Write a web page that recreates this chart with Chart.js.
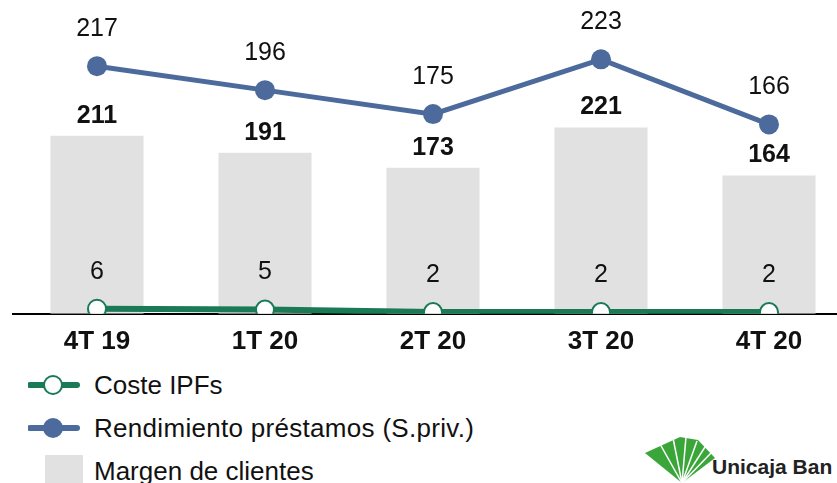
<!DOCTYPE html>
<html>
<head>
<meta charset="utf-8">
<script src="https://cdn.jsdelivr.net/npm/chart.js@4"></script>
<style>
  html, body { margin: 0; padding: 0; background: #fff; overflow: hidden; width: 837px; height: 483px; }
  body { position: relative; font-family: "Liberation Sans", Arial, sans-serif; }
  #wrap { position: absolute; left: 0; top: 0; width: 853px; height: 363px; }
  .leg { position: absolute; font-size: 26px; color: #111; line-height: 30px; white-space: nowrap; }
  .sw { position: absolute; }
  #logo-text { position: absolute; left: 712px; top: 455px; font-size: 21px; font-weight: bold; color: #222; white-space: nowrap; }
</style>
</head>
<body>
<div id="wrap"><canvas id="chart"></canvas></div>

<!-- leyenda -->
<svg class="sw" style="left:28px;top:373px" width="52" height="24">
  <line x1="2" y1="12" x2="49" y2="12" stroke="#1b7a56" stroke-width="6" stroke-linecap="round"/>
  <circle cx="25" cy="12" r="9" fill="#fff" stroke="#1b7a56" stroke-width="2"/>
</svg>
<div class="leg" style="left:94px;top:370px">Coste IPFs</div>
<svg class="sw" style="left:28px;top:416px" width="52" height="24">
  <line x1="2" y1="12" x2="49" y2="12" stroke="#4c6b9c" stroke-width="6" stroke-linecap="round"/>
  <circle cx="25" cy="12" r="10" fill="#4c6b9c"/>
</svg>
<div class="leg" style="left:94px;top:413px;letter-spacing:0.3px">Rendimiento préstamos (S.priv.)</div>
<div class="sw" style="left:45px;top:455px;width:38px;height:30px;background:#e1e1e1"></div>
<div class="leg" style="left:94px;top:456px">Margen de clientes</div>

<!-- logo -->
<svg class="sw" style="left:640px;top:432px" width="80" height="52">
  <polygon points="5,21 40,5 58,8 75,26 42,51" fill="#3aa63a"/>
  <g stroke="#fff" stroke-width="1.5">
    <line x1="42" y1="51" x2="20" y2="12"/>
    <line x1="42" y1="51" x2="33" y2="6"/>
    <line x1="42" y1="51" x2="46" y2="5"/>
    <line x1="42" y1="51" x2="57" y2="9"/>
    <line x1="42" y1="51" x2="65" y2="15"/>
    <line x1="42" y1="51" x2="71" y2="21"/>
  </g>
</svg>
<div id="logo-text">Unicaja Ban</div>

<script>
// datos
const trimestres = ['4T 19', '1T 20', '2T 20', '3T 20', '4T 20'];
const margenClientes = [211, 191, 173, 221, 164];
const rendimientoPrestamos = [217, 196, 175, 223, 166];
const costeIPFs = [6, 5, 2, 2, 2];

const AZUL = '#4c6b9c';
const VERDE = '#1b7a56';
const GRIS = '#e1e1e1';

// etiquetas de valor encima de cada punto / barra
const valueLabels = {
  id: 'valueLabels',
  afterDatasetsDraw(chart) {
    const ctx = chart.ctx;
    chart.data.datasets.forEach((ds, i) => {
      const meta = chart.getDatasetMeta(i);
      ctx.save();
      ctx.font = ds.labelFont;
      ctx.fillStyle = '#111';
      ctx.textAlign = 'center';
      ctx.textBaseline = 'middle';
      meta.data.forEach((el, j) => {
        ctx.fillText(ds.data[j], el.x, el.y - ds.labelOffset);
      });
      ctx.restore();
    });
  }
};

new Chart(document.getElementById('chart'), {
  type: 'bar',
  data: {
    labels: trimestres,
    datasets: [
      {
        type: 'line',
        label: 'Rendimiento préstamos (S.priv.)',
        data: rendimientoPrestamos,
        yAxisID: 'y1',
        borderColor: AZUL,
        backgroundColor: AZUL,
        borderWidth: 5,
        pointRadius: 10,
        pointHoverRadius: 10,
        pointBackgroundColor: AZUL,
        pointBorderWidth: 0,
        tension: 0,
        order: 1,
        labelFont: '25px "Liberation Sans", Arial',
        labelOffset: 37
      },
      {
        type: 'line',
        label: 'Coste IPFs',
        data: costeIPFs,
        yAxisID: 'y',
        borderColor: VERDE,
        backgroundColor: '#fff',
        borderWidth: 6,
        pointRadius: 9,
        pointHoverRadius: 9,
        pointBackgroundColor: '#fff',
        pointBorderColor: VERDE,
        pointBorderWidth: 2,
        tension: 0,
        order: 2,
        labelFont: '25px "Liberation Sans", Arial',
        labelOffset: 37
      },
      {
        label: 'Margen de clientes',
        data: margenClientes,
        yAxisID: 'y',
        backgroundColor: GRIS,
        barPercentage: 0.554,
        categoryPercentage: 1,
        order: 3,
        labelFont: 'bold 25px "Liberation Sans", Arial',
        labelOffset: 20
      }
    ]
  },
  options: {
    responsive: true,
    maintainAspectRatio: false,
    animation: false,
    layout: { autoPadding: false, padding: { left: 13, right: 0, top: 0, bottom: 2 } },
    plugins: {
      legend: { display: false },
      tooltip: { enabled: false }
    },
    scales: {
      x: {
        offset: true,
        grid: { display: false },
        border: { display: true, color: '#000', width: 2 },
        ticks: {
          color: '#111',
          padding: 4,
          font: { family: '"Liberation Sans", Arial', size: 26, weight: 'bold' }
        }
      },
      y: { display: false, min: 0, max: 372 },
      y1: { display: false, min: 0, max: 275 }
    }
  },
  plugins: [valueLabels]
});
</script>
</body>
</html>
